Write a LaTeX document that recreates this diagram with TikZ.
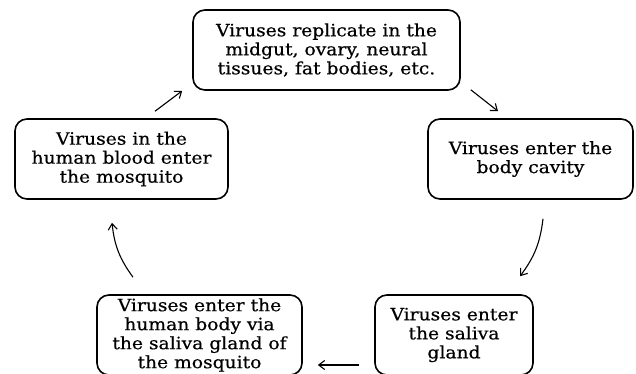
\documentclass[tikz,border=0pt]{standalone}
\usepackage{fontspec}
\setmainfont[FakeStretch=1.1,FakeBold=0.5]{DejaVu Serif}
\usetikzlibrary{arrows.meta,calc}
\begin{document}
\begin{tikzpicture}[
    x=1pt, y=1pt,
    stage/.style={rectangle, rounded corners=12pt, draw=black, line width=1.6pt, align=center, font=\fontsize{17}{19}\selectfont, inner sep=0pt},
    arrow/.style={-{Straight Barb[length=6pt,width=9pt]}, line width=1.1pt, black},
]
\useasboundingbox (0,0) rectangle (636,373);
\node[stage, minimum width=267pt, minimum height=80pt] (TOP) at (326.5,323) {Viruses replicate in the\\midgut, ovary, neural\\tissues, fat bodies, etc.};
\node[stage, minimum width=213pt, minimum height=80pt] (HUMAN) at (121.5,214) {Viruses in the\\human blood enter\\the mosquito};
\node[stage, minimum width=205pt, minimum height=80pt] (CAVITY) at (530.5,214) {Viruses enter the\\body cavity};
\node[stage, minimum width=205pt, minimum height=80pt] (BITE) at (199.5,38) {Viruses enter the\\human body via\\the saliva gland of\\the mosquito};
\node[stage, minimum width=158pt, minimum height=80pt] (SALIVA) at (454,38) {Viruses enter\\the saliva\\gland};

\draw[arrow] ($(HUMAN.north)+(33.5,7)$) -- ($(TOP.south west)+(-10,0)$);
\draw[arrow] ($(TOP.south east)+(10,1)$) -- ($(CAVITY.north)+(-32.5,7)$);
\draw[arrow] ($(CAVITY.south)+(12.5,-19)$) to[bend left=15] ($(SALIVA.north)+(66,18)$);
\draw[arrow] ($(SALIVA.west)+(-15,-30)$) -- ($(BITE.east)+(15,-30)$);
\draw[arrow] ($(BITE.north)+(-66.5,17)$) to[bend left=15] ($(HUMAN.south)+(-9.5,-23)$);
\end{tikzpicture}
\end{document}
